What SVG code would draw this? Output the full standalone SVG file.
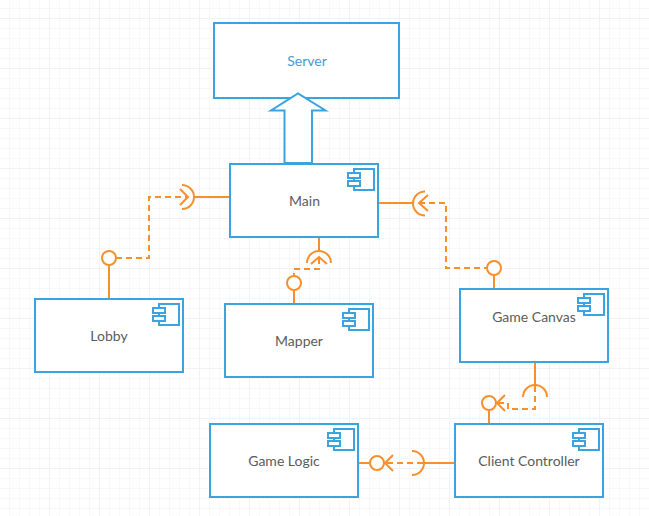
<svg xmlns="http://www.w3.org/2000/svg" width="649" height="516" viewBox="0 0 649 516">
<defs>
<pattern id="g" width="50" height="50" patternUnits="userSpaceOnUse" x="49" y="18">
<path d="M10.500 0V50M20.500 0V50M30.500 0V50M40.500 0V50M0 10.500H50M0 20.500H50M0 30.500H50M0 40.500H50" stroke="#f8f8f8" stroke-width="1" fill="none"/>
<path d="M.5 0V50M0 .5H50" stroke="#f2f2f2" stroke-width="1" fill="none"/>
</pattern>
<g id="icon"><rect x="6" y="0" width="20" height="21" class="ic"/><rect x="0" y="4" width="12" height="5" class="ic"/><rect x="0" y="12" width="12" height="5" class="ic"/></g>
</defs>
<style>
.box{fill:#fff;stroke:#3aa3e0;stroke-width:2}
.ic{fill:#fff;stroke:#3aa3e0;stroke-width:2}
.t{font-family:Lato,"Liberation Sans",sans-serif;font-size:14px;fill:#5c5c5c;text-anchor:middle}
.c{fill:none;stroke:#f7902b;stroke-width:2}
.d{stroke-dasharray:6 4}
.o{fill:#fff;stroke:#f7902b;stroke-width:2}
</style>
<rect width="649" height="516" fill="#fff"/>
<rect width="649" height="516" fill="url(#g)"/>
<g id="connectors">
<path class="c" d="M109 299V265"/><circle class="o" cx="109" cy="258" r="7"/><path class="c d" d="M116 258H149V197H188"/><path class="c" d="M180 189L188 197L180 205M182 185A12 12 0 0 1 182 209M194 197H230"/>
<path class="c" d="M319 237V250"/><path class="c" d="M307 263A12 12 0 0 1 331 263M311 264L319 257L327 264"/><path class="c d" d="M319 258V269H294V276"/><circle class="o" cx="294" cy="283" r="7"/><path class="c" d="M294 290V304"/>
<path class="c" d="M379 203H413"/><path class="c" d="M425 191.500A12 12 0 0 0 425 215.500M428 195L419 203L428 211"/><path class="c d" d="M419 203H446V268H487"/><circle class="o" cx="494" cy="268" r="7"/><path class="c" d="M494 275V289"/>
<path class="c" d="M535 362V385"/><path class="c" d="M523 397A12 12 0 0 1 547 397"/><path class="c d" d="M535 386V409H508V403H497"/><circle class="o" cx="489" cy="403" r="7"/><path class="c" d="M489 410V424M505 395L497 403L505 411"/>
<path class="c" d="M359 463H370"/><circle class="o" cx="377" cy="463" r="7"/><path class="c" d="M393 455L385 463L393 471"/><path class="c d" d="M423 463H386"/><path class="c" d="M412 451A12 12 0 0 1 412 475M424 463H455"/>
</g>
<g id="server"><rect class="box" x="214" y="23" width="185" height="75"/><text class="t" x="307" y="66" style="fill:#4a98d3">Server</text></g>
<g id="main"><rect class="box" x="230" y="164" width="148" height="73"/><use href="#icon" x="348" y="169"/><text class="t" x="304.500" y="206">Main</text></g>
<g id="inherit-arrow"><path d="M284.500 163V110.500H271L298 93.500L325.500 110.500H312V163Z" fill="#fff" stroke="#3aa3e0" stroke-width="2"/></g>
<g id="lobby"><rect class="box" x="35" y="299" width="148" height="73"/><use href="#icon" x="153" y="304"/><text class="t" x="109" y="341">Lobby</text></g>
<g id="mapper"><rect class="box" x="225" y="304" width="148" height="73"/><use href="#icon" x="343" y="309"/><text class="t" x="299" y="346">Mapper</text></g>
<g id="game-canvas"><rect class="box" x="460" y="289" width="148" height="73"/><use href="#icon" x="578" y="294"/><text class="t" x="534" y="322">Game Canvas</text></g>
<g id="game-logic"><rect class="box" x="210" y="424" width="148" height="73"/><use href="#icon" x="328" y="429"/><text class="t" x="284" y="466">Game Logic</text></g>
<g id="client-controller"><rect class="box" x="455" y="424" width="148" height="73"/><use href="#icon" x="573" y="429"/><text class="t" x="529" y="466">Client Controller</text></g>
</svg>
